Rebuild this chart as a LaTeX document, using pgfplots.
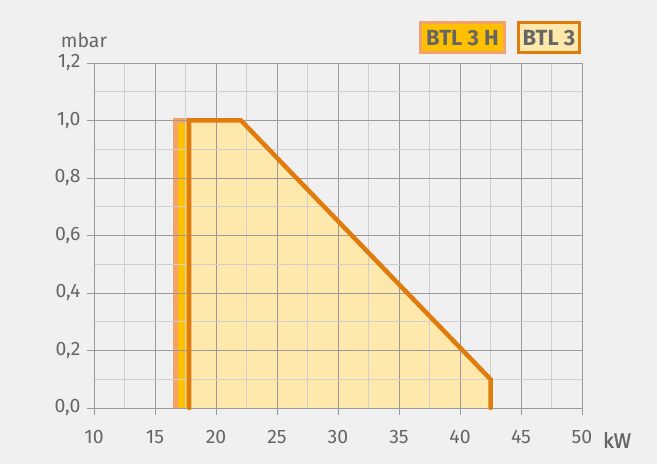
\documentclass[border=0pt]{standalone}
\usepackage{fontspec}
\setmainfont{Fira Sans}
\newfontfamily\kwfont{Fira Sans}[FakeBold=1.2]
\usepackage{pgfplots}
\pgfplotsset{compat=1.18}
\definecolor{bgc}{HTML}{F0F0F0}
\definecolor{majg}{HTML}{9A9A9A}
\definecolor{ming}{HTML}{CFCFCF}
\definecolor{txt}{HTML}{666666}
\definecolor{org}{HTML}{E07B0E}
\definecolor{lfill}{HTML}{FFE8AC}
\definecolor{yel}{HTML}{FFC000}
\definecolor{sal}{HTML}{F4A26C}
\begin{document}
\begin{tikzpicture}[x=1bp,y=1bp]
\begin{axis}[
  set layers,
  scale only axis, width=488bp, height=345bp,
  at={(94bp,56bp)}, anchor=south west,
  xmin=10, xmax=50, ymin=0, ymax=1.2,
  xtick={10,15,20,25,30,35,40,45,50},
  ytick={0,0.2,0.4,0.6,0.8,1.0,1.2},
  minor xtick={12.5,17.5,22.5,27.5,32.5,37.5,42.5,47.5},
  minor ytick={0.1,0.3,0.5,0.7,0.9,1.1},
  grid=both,
  major grid style={majg, line width=0.8bp},
  minor grid style={ming, line width=0.8bp},
  axis line style={majg, line width=0.8bp},
  tick align=outside, tick pos=left,
  major tick length=7bp, minor tick length=0bp,
  tick style={majg, line width=0.8bp},
  /pgf/number format/assume math mode=true,
  ticklabel style={font=\fontsize{19.5}{19.5}\selectfont, text=txt},
  xticklabel style={yshift=-12bp},
  yticklabel style={xshift=-3bp, /pgf/number format/.cd, fixed, fixed zerofill, precision=1, use comma},
  clip=false,
]
\begin{pgfonlayer}{axis background}
\fill[bgc] (rel axis cs:-0.19262,-0.162319) rectangle (rel axis cs:1.15369,1.182609);
\end{pgfonlayer}
% BTL 3 H
\addplot[fill=yel, draw=none, on layer=axis background] coordinates {(16.66,0) (16.66,1.0) (17.9,1.0) (17.9,0)} -- cycle;
\addplot[sal, line width=4.5bp, on layer=axis background] coordinates {(16.66,0) (16.66,1.0) (17.9,1.0)};
% BTL 3
\addplot[fill=lfill, draw=none, on layer=axis background] coordinates {(17.8,0) (17.8,1.0) (22.05,1.0) (42.5,0.1) (42.5,0)} -- cycle;
\addplot[org, line width=4.5bp, line cap=round, line join=miter] coordinates {(17.8,0) (17.8,1.0) (22.05,1.0) (42.5,0.1) (42.5,0)};
\end{axis}
\node[text=txt, font=\fontsize{19.5}{19.5}\selectfont] at (84,424) {mbar};
\node[text=txt, font=\kwfont\fontsize{21}{21}\selectfont] at (617,24) {kW};
\node[draw=sal, fill=yel, line width=3bp, minimum width=84bp, minimum height=30bp, inner sep=0pt,
  text=txt, font=\bfseries\fontsize{22}{22}\selectfont] at (462.5,426) {BTL 3 H};
\node[draw=org, fill=lfill, line width=3bp, minimum width=61bp, minimum height=30bp, inner sep=0pt,
  text=txt, font=\bfseries\fontsize{22}{22}\selectfont] at (549,426) {BTL 3};
\end{tikzpicture}
\end{document}
